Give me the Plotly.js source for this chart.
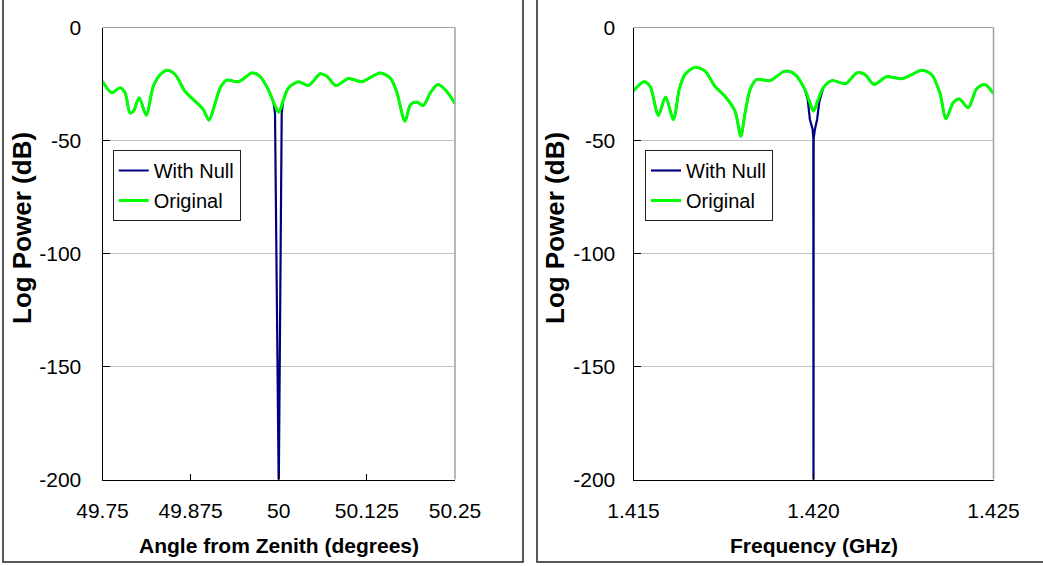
<!DOCTYPE html>
<html>
<head>
<meta charset="utf-8">
<script src="https://cdn.plot.ly/plotly-3.0.1.min.js"></script>
<style>
html,body{margin:0;padding:0;background:#fff;}
#chart{width:1043px;height:566px;}
</style>
</head>
<body>
<div id="chart"></div>
<script>
// ---------- DATA ----------
// Left panel: angle from zenith (degrees) vs log power (dB)
var angleOrig = [49.750,49.763,49.775,49.782,49.789,49.794,49.802,49.812,49.822,49.832,49.842,49.853,49.867,49.879,49.893,49.901,49.910,49.917,49.926,49.943,49.962,49.973,49.985,49.994,50.000,50.006,50.014,50.028,50.042,50.059,50.068,50.081,50.099,50.118,50.129,50.144,50.158,50.167,50.179,50.187,50.196,50.205,50.215,50.226,50.238,50.250];
var powerAngleOrig = [-23.8,-28.9,-26.7,-28.9,-37.8,-37.0,-31.1,-38.8,-26.0,-20.8,-18.9,-20.8,-28.2,-31.9,-36.3,-41.0,-33.3,-26.7,-23.3,-24.0,-20.1,-21.5,-27.4,-34.1,-37.5,-32.6,-26.7,-24.0,-25.7,-20.5,-21.5,-25.7,-22.6,-24.0,-22.3,-20.1,-22.3,-28.2,-41.5,-34.1,-33.0,-34.5,-28.9,-25.2,-28.2,-33.6];
// With-null curve near the null direction (elsewhere identical to original)
var angleNull = [49.9925,49.9947,50.0000,50.0042,50.0060];
var powerAngleNull = [-33.0,-38.0,-205.0,-38.0,-33.0];

// Right panel: frequency (GHz) vs log power (dB)
var freqOrig = [1.41500,1.41529,1.41546,1.41569,1.41589,1.41611,1.41627,1.41643,1.41671,1.41699,1.41726,1.41754,1.41782,1.41798,1.41810,1.41824,1.41842,1.41879,1.41921,1.41949,1.41976,1.41990,1.42000,1.42013,1.42027,1.42051,1.42090,1.42120,1.42143,1.42168,1.42203,1.42245,1.42273,1.42301,1.42328,1.42351,1.42368,1.42388,1.42405,1.42430,1.42453,1.42476,1.42500];
var powerFreqOrig = [-28.0,-24.0,-26.0,-38.9,-30.8,-40.7,-27.4,-20.8,-17.6,-19.3,-26.0,-30.4,-37.0,-48.1,-37.8,-27.4,-23.0,-23.5,-19.3,-20.8,-27.4,-33.3,-37.0,-31.9,-26.7,-23.5,-24.8,-20.1,-20.8,-25.2,-21.8,-22.7,-20.8,-18.9,-20.8,-28.9,-40.4,-33.3,-31.6,-35.5,-27.1,-25.2,-29.3];
var freqNull = [1.41976,1.41984,1.41990,1.419975,1.419995,1.42000,1.420005,1.42004,1.42010,1.42016,1.42027];
var powerFreqNull = [-27.4,-32.0,-40.7,-45.0,-49.0,-210.0,-49.0,-45.0,-40.7,-33.0,-26.7];

var yTickVals = [0,-50,-100,-150,-200];
var yTickText = ["0","-50","-100","-150","-200"];
var xTickValsLeft = [49.75,49.875,50,50.125,50.25];
var xTickTextLeft = ["49.75","49.875","50","50.125","50.25"];
var xTickValsRight = [1.415,1.420,1.425];
var xTickTextRight = ["1.415","1.420","1.425"];
var seriesNames = ["With Null","Original"];
var yTitle = "Log Power (dB)";
var xTitleLeft = "Angle from Zenith (degrees)";
var xTitleRight = "Frequency (GHz)";

// ---------- STYLE ----------
var W = 1043, H = 566;
function px(x){return x/W;}
function py(y){return 1 - y/H;}
var FONT = "Liberation Sans, Arial, Helvetica, sans-serif";
var NAVY = "#000080", GREEN = "#00ff00";

var traces = [
  {x: angleOrig, y: powerAngleOrig, name: seriesNames[0], mode:"lines", line:{color:NAVY,width:2.2,shape:"spline",smoothing:0.8}, xaxis:"x", yaxis:"y", legend:"legend", legendgroup:"a1"},
  {x: angleNull, y: powerAngleNull, name: seriesNames[0], mode:"lines", line:{color:NAVY,width:2.2}, xaxis:"x", yaxis:"y", legend:"legend", legendgroup:"a1", showlegend:false},
  {x: angleOrig, y: powerAngleOrig, name: seriesNames[1], mode:"lines", line:{color:GREEN,width:3,shape:"spline",smoothing:0.8}, xaxis:"x", yaxis:"y", legend:"legend", legendgroup:"a2"},
  {x: freqOrig, y: powerFreqOrig, name: seriesNames[0], mode:"lines", line:{color:NAVY,width:2.2,shape:"spline",smoothing:0.8}, xaxis:"x2", yaxis:"y2", legend:"legend2", legendgroup:"b1"},
  {x: freqNull, y: powerFreqNull, name: seriesNames[0], mode:"lines", line:{color:NAVY,width:2.2}, xaxis:"x2", yaxis:"y2", legend:"legend2", legendgroup:"b1", showlegend:false},
  {x: freqOrig, y: powerFreqOrig, name: seriesNames[1], mode:"lines", line:{color:GREEN,width:3,shape:"spline",smoothing:0.8}, xaxis:"x2", yaxis:"y2", legend:"legend2", legendgroup:"b2"}
];

var yDom = [py(479.5), py(27.5)];
function xAxis(dom, range, tv, tt, anchor){
  return {domain:dom, range:range, tickmode:"array", tickvals:tv, ticktext:tt, ticks:"inside", ticklen:6, tickwidth:1, tickcolor:"#000",
    showline:true, linecolor:"#000", linewidth:1, showgrid:false, zeroline:false, anchor:anchor,
    tickfont:{family:FONT,size:21,color:"#000"}, ticklabelstandoff:12, fixedrange:true};
}
function yAxis(anchor, standoff){
  return {domain:yDom, range:[-200,0], tickmode:"array", tickvals:yTickVals, ticktext:yTickText, ticks:"inside", ticklen:7, tickwidth:1, tickcolor:"#000",
    showline:true, linecolor:"#000", linewidth:1, showgrid:true, gridcolor:"#c0c0c0", gridwidth:1, zeroline:false, anchor:anchor,
    tickfont:{family:FONT,size:21,color:"#000"}, ticklabelstandoff:standoff, fixedrange:true};
}
function legendAt(xp, yp){
  return {x:px(xp), y:py(yp), xanchor:"left", yanchor:"top", bgcolor:"#fff", bordercolor:"#222", borderwidth:1,
    font:{family:FONT,size:20,color:"#000"}, traceorder:"grouped", tracegroupgap:1};
}

var layout = {
  width:W, height:H, margin:{l:0,r:0,t:0,b:0}, paper_bgcolor:"#fff", plot_bgcolor:"#fff",
  font:{family:FONT,color:"#000"},
  showlegend:true,
  xaxis: xAxis([px(102.5),px(455)],[49.75,50.25],xTickValsLeft,xTickTextLeft,"y"),
  yaxis: yAxis("x", 16),
  xaxis2: xAxis([px(633.5),px(993.5)],[1.415,1.425],xTickValsRight,xTickTextRight,"y2"),
  yaxis2: yAxis("x2", 13),
  legend: legendAt(112.7, 150),
  legend2: legendAt(645, 150),
  shapes: [
    {type:"rect", xref:"paper", yref:"paper", x0:px(3), x1:px(523), y0:py(562), y1:py(-5), line:{color:"#222",width:1.5}, layer:"below"},
    {type:"rect", xref:"paper", yref:"paper", x0:px(537), x1:px(1050), y0:py(562), y1:py(-5), line:{color:"#222",width:1.5}, layer:"below"},
    {type:"line", xref:"x domain", yref:"y domain", x0:0, x1:1, y0:1, y1:1, line:{color:"#a0a0a0",width:1}},
    {type:"line", xref:"x domain", yref:"y domain", x0:1, x1:1, y0:0, y1:1, line:{color:"#a0a0a0",width:1.5}},
    {type:"line", xref:"x2 domain", yref:"y2 domain", x0:0, x1:1, y0:1, y1:1, line:{color:"#a0a0a0",width:1}},
    {type:"line", xref:"x2 domain", yref:"y2 domain", x0:1, x1:1, y0:0, y1:1, line:{color:"#a0a0a0",width:1.5}}
  ],
  annotations: [
    {text:"<b>"+xTitleLeft+"</b>", xref:"paper", yref:"paper", x:px(278.7), y:py(545), xanchor:"center", yanchor:"middle", showarrow:false, font:{family:FONT,size:21,color:"#000"}},
    {text:"<b>"+xTitleRight+"</b>", xref:"paper", yref:"paper", x:px(813.5), y:py(545), xanchor:"center", yanchor:"middle", showarrow:false, font:{family:FONT,size:21,color:"#000"}},
    {text:"<b>"+yTitle+"</b>", xref:"paper", yref:"paper", x:px(22), y:py(228), xanchor:"center", yanchor:"middle", textangle:-90, showarrow:false, font:{family:FONT,size:26,color:"#000"}},
    {text:"<b>"+yTitle+"</b>", xref:"paper", yref:"paper", x:px(555), y:py(228), xanchor:"center", yanchor:"middle", textangle:-90, showarrow:false, font:{family:FONT,size:26,color:"#000"}}
  ]
};

Plotly.newPlot("chart", traces, layout, {displayModeBar:false, staticPlot:true});
</script>
</body>
</html>
